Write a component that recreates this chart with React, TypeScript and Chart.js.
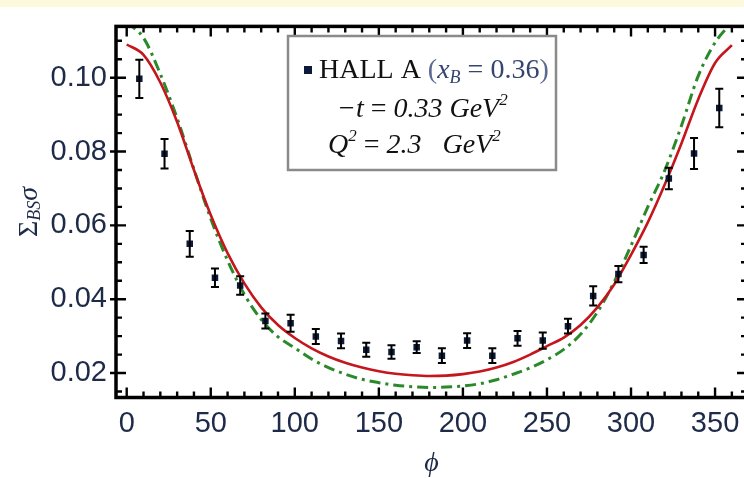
import { useEffect, useRef } from "react";
import { Chart, registerables } from "chart.js";

Chart.register(...registerables);

// Data points (HALL A, x_B = 0.36)
const phiData = [7.5, 22.5, 37.5, 52.5, 67.5, 82.5, 97.5, 112.5, 127.5, 142.5, 157.5, 172.5, 187.5, 202.5, 217.5, 232.5, 247.5, 262.5, 277.5, 292.5, 307.5, 322.5, 337.5, 352.5];
const sigmaData = [0.0997, 0.0794, 0.055, 0.0458, 0.0437, 0.0341, 0.0335, 0.0299, 0.0287, 0.0263, 0.0257, 0.027, 0.0247, 0.0288, 0.0247, 0.0294, 0.0288, 0.0327, 0.0409, 0.0468, 0.052, 0.0727, 0.0795, 0.0918];
const sigmaErr = [0.0052, 0.004, 0.0035, 0.0025, 0.0025, 0.002, 0.0023, 0.002, 0.002, 0.0019, 0.0018, 0.0016, 0.002, 0.002, 0.002, 0.002, 0.0022, 0.002, 0.0026, 0.0022, 0.0022, 0.0029, 0.0042, 0.0052];

// Model curves
const curvePhi = [0, 10, 20, 30, 40, 50, 60, 70, 80, 90, 100, 110, 120, 130, 140, 150, 160, 170, 180, 190, 200, 210, 220, 230, 240, 250, 260, 270, 280, 290, 300, 310, 320, 330, 340, 350, 360];
const redCurve = [0.109, 0.1062, 0.0987, 0.088, 0.075, 0.0628, 0.0525, 0.0443, 0.0378, 0.033, 0.0295, 0.0267, 0.0245, 0.0228, 0.0215, 0.0205, 0.0198, 0.0194, 0.0192, 0.0193, 0.0197, 0.0204, 0.0215, 0.023, 0.025, 0.0273, 0.0296, 0.033, 0.0378, 0.044, 0.052, 0.0608, 0.071, 0.0822, 0.0942, 0.104, 0.1088];
const greenCurve = [0.115, 0.1108, 0.101, 0.089, 0.0752, 0.0618, 0.0505, 0.0413, 0.0345, 0.0298, 0.0268, 0.0238, 0.0215, 0.0197, 0.0183, 0.0174, 0.0167, 0.0163, 0.0161, 0.0162, 0.0165, 0.0171, 0.0182, 0.0197, 0.0214, 0.0236, 0.0264, 0.0305, 0.0365, 0.0447, 0.0545, 0.065, 0.0748, 0.087, 0.1005, 0.1095, 0.115];

// Axis ticks
const xTicks = [0, 50, 100, 150, 200, 250, 300, 350];
const yTicks = [0.02, 0.04, 0.06, 0.08, 0.1];

const LABEL_COLOR = "#1d2a48";

type Run = { text: string; font: string; color?: string; dy?: number };

function drawRuns(ctx: CanvasRenderingContext2D, x: number, y: number, runs: Run[]) {
  let cx = x;
  for (const r of runs) {
    ctx.font = r.font;
    ctx.fillStyle = r.color || "#000";
    ctx.fillText(r.text, cx, y + (r.dy || 0));
    cx += ctx.measureText(r.text).width;
  }
}

const framePlugin = {
  id: "frameTicks",
  afterDatasetsDraw(chart: any) {
    const { ctx, scales } = chart;
    const xs = scales.x;
    const ys = scales.y;
    ctx.save();
    // error bars
    ctx.strokeStyle = "#000";
    ctx.lineWidth = 2;
    phiData.forEach((p, i) => {
      const px = xs.getPixelForValue(p);
      const t = ys.getPixelForValue(sigmaData[i] + sigmaErr[i]);
      const b = ys.getPixelForValue(sigmaData[i] - sigmaErr[i]);
      ctx.beginPath();
      ctx.moveTo(px, t);
      ctx.lineTo(px, b);
      ctx.moveTo(px - 4, t);
      ctx.lineTo(px + 4, t);
      ctx.moveTo(px - 4, b);
      ctx.lineTo(px + 4, b);
      ctx.stroke();
    });
    ctx.restore();
  },
  afterDraw(chart: any) {
    const { ctx, chartArea, scales } = chart;
    const { left, right, top, bottom } = chartArea;
    const xs = scales.x;
    const ys = scales.y;
    ctx.save();
    ctx.strokeStyle = "#000";
    ctx.lineWidth = 3.5;
    ctx.strokeRect(left, top, right - left, bottom - top);
    ctx.lineWidth = 2.4;
    ctx.beginPath();
    for (let k = 0; k <= 36; k++) {
      const v = k * 10;
      const px = xs.getPixelForValue(v);
      if (px < left || px > right) continue;
      const len = k % 5 === 0 ? 10 : 6;
      ctx.moveTo(px, bottom);
      ctx.lineTo(px, bottom - len);
      ctx.moveTo(px, top);
      ctx.lineTo(px, top + len);
    }
    for (let k = 3; k <= 22; k++) {
      const v = k * 0.005;
      const py = ys.getPixelForValue(v);
      if (py < top || py > bottom) continue;
      const major = k % 4 === 0;
      const len = major ? 10 : 6;
      ctx.moveTo(left - (major ? 6 : 0), py);
      ctx.lineTo(left + len, py);
      ctx.moveTo(right, py);
      ctx.lineTo(right - len, py);
    }
    ctx.stroke();

    // axis titles
    ctx.textBaseline = "alphabetic";
    ctx.textAlign = "left";
    ctx.font = "italic 28px 'Liberation Serif'";
    ctx.fillStyle = LABEL_COLOR;
    const phiW = ctx.measureText("ϕ").width;
    ctx.fillText("ϕ", (left + right) / 2 - phiW / 2, 471);

    ctx.save();
    ctx.translate(37, 237);
    ctx.rotate(-Math.PI / 2);
    drawRuns(ctx, 0, 0, [
      { text: "Σ", font: "28px 'Liberation Serif'", color: LABEL_COLOR },
      { text: "BS", font: "italic 18px 'Liberation Serif'", color: LABEL_COLOR, dy: 3 },
      { text: "σ", font: "italic 28px 'Liberation Serif'", color: LABEL_COLOR },
    ]);
    ctx.restore();

    // legend box
    ctx.fillStyle = "#fff";
    ctx.fillRect(288, 36, 268, 134);
    ctx.strokeStyle = "#8a8a8a";
    ctx.lineWidth = 2.5;
    ctx.strokeRect(288, 36, 268, 134);
    ctx.fillStyle = "#0d1a3a";
    ctx.fillRect(304, 66, 8, 8);
    const navy = "#34456e";
    drawRuns(ctx, 319, 78, [
      { text: "HALL A ", font: "28px 'Liberation Serif'", color: "#111" },
      { text: "(", font: "28px 'Liberation Serif'", color: "#5a6a90" },
      { text: "x", font: "italic 28px 'Liberation Serif'", color: navy },
      { text: "B", font: "italic 18px 'Liberation Serif'", color: navy, dy: 5 },
      { text: " = 0.36", font: "28px 'Liberation Serif'", color: navy },
      { text: ")", font: "28px 'Liberation Serif'", color: "#5a6a90" },
    ]);
    drawRuns(ctx, 337, 117, [
      { text: "−t", font: "italic 28px 'Liberation Serif'", color: "#111" },
      { text: " = ", font: "28px 'Liberation Serif'", color: "#111" },
      { text: "0.33 GeV", font: "italic 28px 'Liberation Serif'", color: "#111" },
      { text: "2", font: "italic 17px 'Liberation Serif'", color: "#111", dy: -12 },
    ]);
    drawRuns(ctx, 328, 153, [
      { text: "Q", font: "italic 28px 'Liberation Serif'", color: "#111" },
      { text: "2", font: "italic 17px 'Liberation Serif'", color: "#111", dy: -12 },
      { text: " = ", font: "28px 'Liberation Serif'", color: "#111" },
      { text: "2.3   GeV", font: "italic 28px 'Liberation Serif'", color: "#111" },
      { text: "2", font: "italic 17px 'Liberation Serif'", color: "#111", dy: -12 },
    ]);
    ctx.restore();
  },
};

export default function App() {
  const ref = useRef<HTMLCanvasElement | null>(null);
  useEffect(() => {
    if (!ref.current) return;
    const chart = new Chart(ref.current, {
      type: "line",
      data: {
        datasets: [
          {
            label: "HALL A",
            data: phiData.map((p, i) => ({ x: p, y: sigmaData[i] })),
            showLine: false,
            pointStyle: "rect",
            pointRadius: 4.6,
            backgroundColor: "#0d1a3a",
            borderWidth: 0,
            order: 0,
          },
          {
            label: "red",
            data: curvePhi.map((p, i) => ({ x: p, y: redCurve[i] })),
            borderColor: "#c4161c",
            borderWidth: 2.6,
            pointRadius: 0,
            cubicInterpolationMode: "monotone",
            order: 1,
          },
          {
            label: "green",
            data: curvePhi.map((p, i) => ({ x: p, y: greenCurve[i] })),
            borderColor: "#2a8a2a",
            borderWidth: 3,
            borderDash: [11, 5, 3, 5],
            pointRadius: 0,
            cubicInterpolationMode: "monotone",
            order: 2,
          },
        ],
      },
      options: {
        animation: false,
        responsive: false,
        events: [],
        layout: { padding: { left: 0, right: 5, top: 10.5, bottom: 0 } },
        plugins: { legend: { display: false }, tooltip: { enabled: false } },
        scales: {
          x: {
            type: "linear",
            min: -6.37,
            max: 369,
            grid: { display: false, drawTicks: false },
            border: { display: false },
            afterFit: (s: any) => {
              s.height = 80.5;
            },
            afterBuildTicks: (s: any) => {
              s.ticks = xTicks.map((v) => ({ value: v }));
            },
            ticks: {
              autoSkip: false,
              maxRotation: 0,
              padding: 9,
              color: LABEL_COLOR,
              font: { family: "'Liberation Sans'", size: 29 },
              callback: (v: any) => String(v),
            },
          },
          y: {
            type: "linear",
            min: 0.013377,
            max: 0.1139,
            grid: { display: false, drawTicks: false },
            border: { display: false },
            afterFit: (s: any) => {
              s.width = 116;
            },
            afterBuildTicks: (s: any) => {
              s.ticks = yTicks.map((v) => ({ value: v }));
            },
            ticks: {
              autoSkip: false,
              padding: 9,
              color: LABEL_COLOR,
              font: { family: "'Liberation Sans'", size: 29 },
              callback: (v: any) => Number(v).toFixed(2),
            },
          },
        },
      },
      plugins: [framePlugin],
    });
    return () => chart.destroy();
  }, []);
  return (
    <div style={{ position: "absolute", left: 0, top: 0, width: 744, height: 478, overflow: "hidden", background: "#fff" }}>
      <div style={{ position: "absolute", left: 0, top: 0, width: 744, height: 7, background: "#fcf9dc" }} />
      <canvas ref={ref} width={752} height={478} style={{ position: "absolute", left: 0, top: 0, width: 752, height: 478 }} />
    </div>
  );
}
